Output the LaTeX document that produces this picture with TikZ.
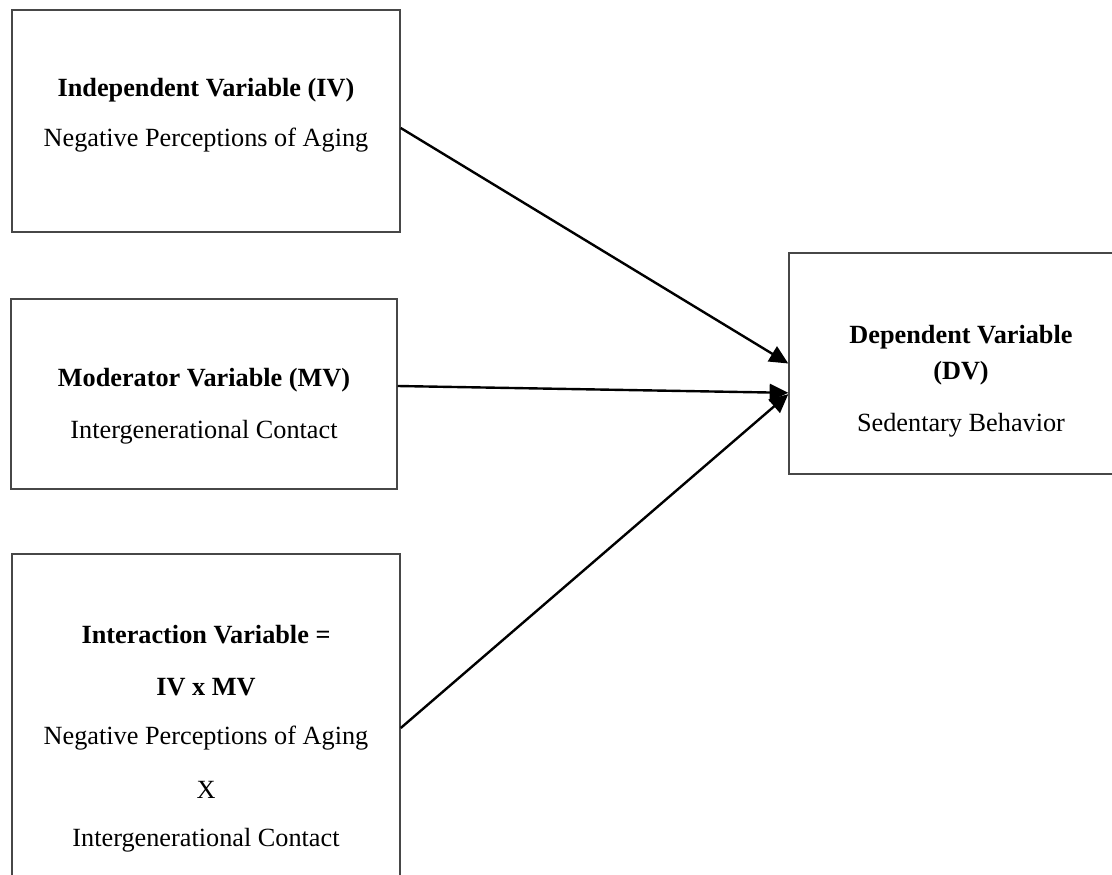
\documentclass[tikz,border=0pt]{standalone}
\usepackage{fontspec}
\setmainfont{Liberation Serif}
\usetikzlibrary{arrows.meta,fit}
\tikzset{
  varbox/.style={draw=black!72, line width=1.1pt, inner sep=0pt, fill=none},
  bt/.style={font=\fontsize{19.7}{24}\selectfont\bfseries, inner sep=0pt},
  rt/.style={font=\fontsize{19.7}{24}\selectfont, inner sep=0pt},
  arr/.style={line width=1.8pt, -{Triangle[length=14pt,width=13pt]}}
}
\begin{document}
\begin{tikzpicture}[x=0.75pt,y=-0.75pt]
\useasboundingbox (0,0) rectangle (1112,874);
\clip (0,0) rectangle (1112,874);
% boxes
\node[varbox, fit={(12,10) (400,232)}] (iv) {};
\node[varbox, fit={(11,299) (397,489)}] (mv) {};
\node[varbox, fit={(12,554) (400,922)}] (ix) {};
\node[varbox, fit={(789,253) (1131,474)}] (dv) {};
% texts
\node[bt] (iv1) at (206,90) {Independent Variable (IV)};
\node[rt] (iv2) at (206,140) {Negative Perceptions of Aging};
\node[bt] (mv1) at (204,380) {Moderator Variable (MV)};
\node[rt] (mv2) at (204,432) {Intergenerational Contact};
\node[bt] (ix1) at (206,635) {Interaction Variable =};
\node[bt] (ix2) at (206,687) {IV x MV};
\node[rt] (ix3) at (206,738) {Negative Perceptions of Aging};
\node[rt] (ix4) at (206,790) {X};
\node[rt] (ix5) at (206,840) {Intergenerational Contact};
\node[bt] (dv1) at (961,337) {Dependent Variable};
\node[bt] (dv2) at (961,373) {(DV)};
\node[rt] (dv3) at (961,425) {Sedentary Behavior};
% arrows
\draw[arr] ([yshift=-5.25pt]iv.east) -- (dv.west);
\draw[arr] ([yshift=6pt]mv.east) -- ([yshift=-22pt]dv.west);
\draw[arr] ([yshift=7.5pt]ix.east) -- ([yshift=-23pt]dv.west);
\end{tikzpicture}
\end{document}
